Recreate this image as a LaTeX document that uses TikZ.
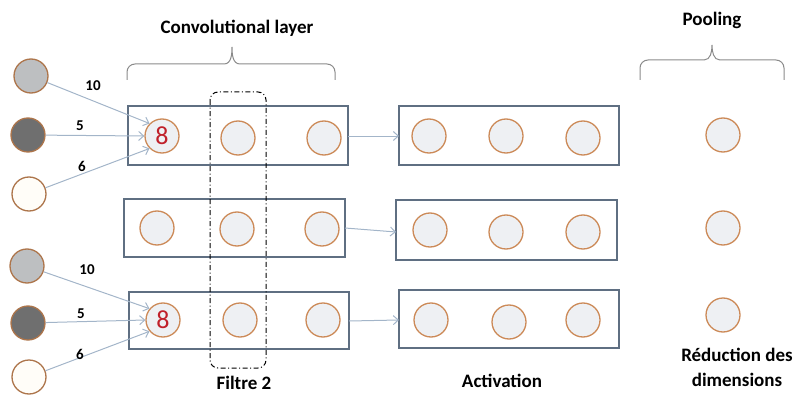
\documentclass[tikz,border=0pt]{standalone}
\usepackage{fontspec}
\setmainfont{Carlito}
\usetikzlibrary{arrows.meta}
\definecolor{cfill}{HTML}{EEF0F3}
\definecolor{cedge}{HTML}{CC8A58}
\definecolor{boxedge}{HTML}{5F6F82}
\definecolor{arr}{HTML}{A3B5C9}
\definecolor{lgray}{HTML}{BDBFC1}
\definecolor{dgray}{HTML}{6F6F6F}
\definecolor{cream}{HTML}{FFFDF8}
\definecolor{eightred}{HTML}{C0202A}
\definecolor{bracec}{HTML}{8A8A8A}
\tikzset{
  neuron/.style={circle,draw=cedge,fill=cfill,line width=1.3pt,minimum size=34pt,inner sep=0pt},
  inneuron/.style={circle,draw=cedge!85!black,line width=1.3pt,minimum size=34pt,inner sep=0pt},
  layerbox/.style={draw=boxedge,line width=1.4pt},
  conn/.style={draw=arr,line width=1pt,-{Straight Barb[length=5pt,width=9pt]}},
  wlabel/.style={font=\bfseries\fontsize{15}{17}\selectfont},
  title/.style={font=\bfseries\fontsize{19}{25}\selectfont,align=center},
  eightlbl/.style={font=\fontsize{26}{28}\selectfont,text=eightred},
  bracepath/.style={draw=bracec,line width=1pt},
}
\begin{document}
\begin{tikzpicture}[x=1pt,y=-1pt]
\useasboundingbox (0,0) rectangle (793,396);
% boxes
\draw[layerbox] (128,106) rectangle (348,165);
\draw[layerbox] (124,199) rectangle (345,257);
\draw[layerbox] (129,292) rectangle (349,349);
\draw[layerbox] (399,106) rectangle (619,165);
\draw[layerbox] (396,200) rectangle (617,260);
\draw[layerbox] (399,290) rectangle (619,348);
% box anchors
\coordinate (c1r) at (348,136);
\coordinate (c2r) at (345,228);
\coordinate (c3r) at (349,321);
\coordinate (a1l) at (399,136);
\coordinate (a2l) at (396,232);
\coordinate (a3l) at (399,320);
% conv neurons
\node[neuron] (e1) at (162,136) {};
\node[eightlbl] at (e1) {8};
\node[neuron] (c12) at (238,138) {};
\node[neuron] (c13) at (324,138) {};
\node[neuron] (c21) at (157,228) {};
\node[neuron] (c22) at (237,229) {};
\node[neuron] (c23) at (322,229) {};
\node[neuron] (e3) at (163,320) {};
\node[eightlbl] at (e3) {8};
\node[neuron] (c32) at (240,320) {};
\node[neuron] (c33) at (323,320) {};
% activation neurons
\node[neuron] (a11) at (429,136) {};
\node[neuron] (a12) at (506,136) {};
\node[neuron] (a13) at (583,138) {};
\node[neuron] (a21) at (430,230) {};
\node[neuron] (a22) at (506,232) {};
\node[neuron] (a23) at (583,232) {};
\node[neuron] (a31) at (431,320) {};
\node[neuron] (a32) at (509,322) {};
\node[neuron] (a33) at (583,320) {};
% pooling neurons
\node[neuron] (p1) at (723,135) {};
\node[neuron] (p2) at (723,228) {};
\node[neuron] (p3) at (723,315) {};
% inputs
\node[inneuron,fill=lgray] (i1) at (31,76) {};
\node[inneuron,fill=dgray] (i2) at (28,135) {};
\node[inneuron,fill=cream] (i3) at (29,194) {};
\node[inneuron,fill=lgray] (j1) at (27,266) {};
\node[inneuron,fill=dgray] (j2) at (28,323) {};
\node[inneuron,fill=cream] (j3) at (29,377) {};
% input connectors
\draw[conn] (i1) -- (e1.135);
\draw[conn] (i2) -- (e1.west);
\draw[conn] (i3) -- (e1.-135);
\draw[conn] (j1) -- (e3.140);
\draw[conn] (j2) -- (e3.west);
\draw[conn] (j3) -- (e3.-140);
\node[wlabel] at (93,86) {10};
\node[wlabel] at (80,126) {5};
\node[wlabel] at (82,166) {6};
\node[wlabel] at (87,270) {10};
\node[wlabel] at (81,314) {5};
\node[wlabel] at (80,354) {6};
% conv -> activation
\draw[conn] (c1r) -- (a1l);
\draw[conn] (c2r) -- (a2l);
\draw[conn] (c3r) -- (a3l);
% filter
\draw[line width=1pt,rounded corners=8pt,dash pattern=on 5pt off 2.5pt on 1pt off 2.5pt] (210,92) rectangle (266,368);
% braces
\draw[bracepath] (127,80) -- (127,72) to[out=90,in=180] (135,64) -- (224,64) to[out=0,in=-90] (232,47) to[out=-90,in=180] (240,64) -- (327,64) to[out=0,in=90] (335,72) -- (335,80);
\draw[bracepath] (640,80) -- (640,68) to[out=90,in=180] (648,60) -- (704,60) to[out=0,in=-90] (712,45) to[out=-90,in=180] (720,60) -- (776,60) to[out=0,in=90] (784,68) -- (784,80);
% titles
\node[title] (tconv) at (237,28) {Convolutional layer};
\node[title] (tpool) at (712,20) {Pooling};
\node[title] (tfil) at (244,383) {Filtre 2};
\node[title] (tact) at (502,381) {Activation};
\node[title] (tred) at (737,367) {Réduction des\\dimensions};
\end{tikzpicture}
\end{document}
